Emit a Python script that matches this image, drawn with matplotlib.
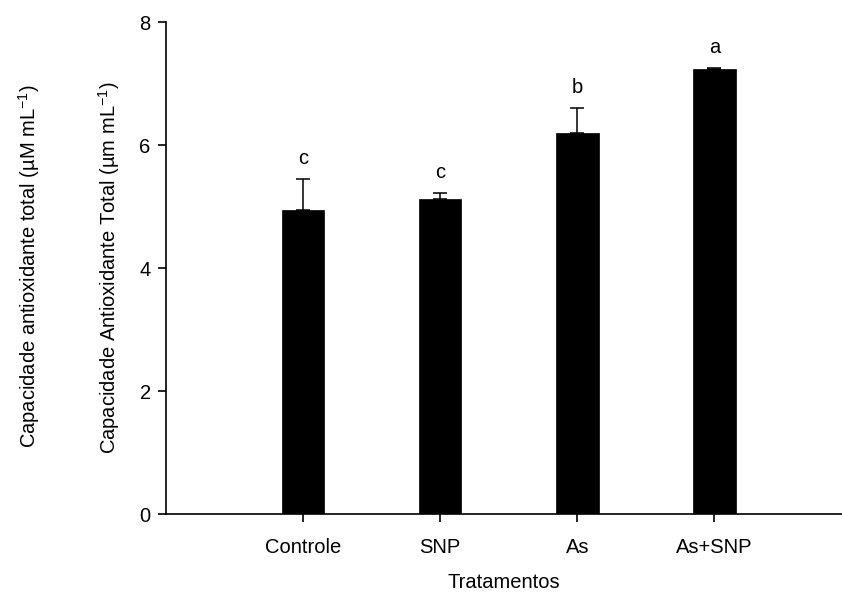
import matplotlib
matplotlib.use("Agg")
import matplotlib.pyplot as plt
import numpy as np

# data
tratamentos = ["Controle", "SNP", "As", "As+SNP"]
media = [4.94, 5.12, 6.20, 7.23]
erro = [0.51, 0.10, 0.40, 0.02]
letras = ["c", "c", "b", "a"]

plt.rcParams['font.family'] = ['Liberation Sans', 'DejaVu Sans']
plt.rcParams['mathtext.fontset'] = 'custom'
plt.rcParams['mathtext.rm'] = 'Liberation Sans'
plt.rcParams['mathtext.it'] = 'Liberation Sans:italic'

fs = 14.5

fig = plt.figure(figsize=(8.42, 5.92), dpi=100)
ax = fig.add_axes([166/842, 78/592, 1 - 166/842, (514-22)/592])

x = np.arange(len(tratamentos))
ax.bar(x, media, width=0.31, color='black', edgecolor='black', linewidth=0.5)
ax.errorbar(x, media, yerr=[np.zeros(len(erro)), erro], fmt='none',
            ecolor='black', elinewidth=1.1, capsize=5, capthick=1.1)

for xi, m, e, l in zip(x, media, erro, letras):
    ax.annotate(l, (xi, m + e), xytext=(0, 8), textcoords='offset points',
                ha='center', va='bottom', fontsize=fs)

ax.set_xlim(-1, 3.93)
ax.set_ylim(0, 8)
ax.set_yticks([0, 2, 4, 6, 8])
ax.set_xticks(x)
ax.set_xticklabels(tratamentos)
ax.spines['top'].set_visible(False)
ax.spines['right'].set_visible(False)
ax.spines['left'].set_linewidth(1.2)
ax.spines['bottom'].set_linewidth(1.2)
ax.tick_params(axis='both', labelsize=fs, length=6, width=1.2, direction='out')
ax.tick_params(axis='y', pad=5)
ax.tick_params(axis='x', pad=11)

ax.set_xlabel("Tratamentos", fontsize=fs, labelpad=12)
fig.text(109/842, 1 - 268/592, "Capacidade Antioxidante Total (µm mL$^{-1}$)",
         rotation=90, ha='center', va='center', fontsize=fs)
fig.text(29/842, 1 - 266/592, "Capacidade antioxidante total (µM mL$^{-1}$)",
         rotation=90, ha='center', va='center', fontsize=fs)

fig.savefig("out.png", dpi=100)
